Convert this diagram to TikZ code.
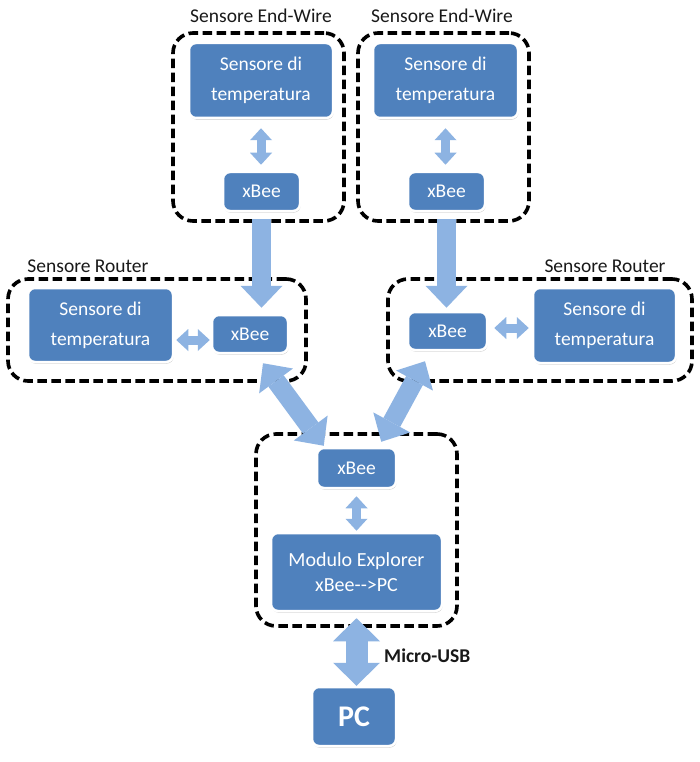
\documentclass[tikz,border=0pt]{standalone}
\usepackage{fontspec}
\setmainfont{Carlito}
\usetikzlibrary{arrows.meta,calc,shadows}
\definecolor{boxblue}{HTML}{4F81BD}
\definecolor{arrblue}{HTML}{8DB3E2}
\begin{document}
\begin{tikzpicture}[x=1pt,y=-1pt,
  blk/.style={fill=boxblue, draw=white, line width=2.5pt, rounded corners=7pt, text=white,
    inner sep=0pt, align=center, font=\fontsize{19.5}{30}\selectfont,
    general shadow={fill=black!22, shadow xshift=0.6pt, shadow yshift=-1.6pt}},
  grp/.style={draw=black, line width=3.6pt, dash pattern=on 9.5pt off 4.5pt, rounded corners=20pt, inner sep=0pt},
  ttl/.style={anchor=base, text=black!90, font=\fontsize{19.5}{24}\selectfont, inner sep=0pt},
  bigarr/.style={draw=arrblue, line width=19pt, -{Triangle[width=42pt,length=22pt,line width=0pt]}},
  bigdbl/.style={draw=arrblue, line width=19pt, {Triangle[width=42pt,length=22pt,line width=0pt]}-{Triangle[width=42pt,length=22pt,line width=0pt]}},
  usbarr/.style={draw=arrblue, line width=22pt, {Triangle[width=47pt,length=23pt,line width=0pt]}-{Triangle[width=47pt,length=23pt,line width=0pt]}},
  smldbl/.style={draw=arrblue, line width=9pt, {Triangle[width=22pt,length=12pt,line width=0pt]}-{Triangle[width=22pt,length=12pt,line width=0pt]}}
]
\useasboundingbox (0,0) rectangle (700,762);
\fill[white] (0,0) rectangle (700,762);

% groups
\node[grp, minimum width=171pt, minimum height=188pt] (tlg) at (258.5,127) {};
\node[grp, minimum width=171pt, minimum height=188pt] (trg) at (443.5,127) {};
\node[grp, minimum width=298pt, minimum height=102pt] (lrg) at (157,330) {};
\node[grp, minimum width=304pt, minimum height=102pt] (rrg) at (540,330) {};
\node[grp, minimum width=201pt, minimum height=192pt] (btg) at (356.5,530) {};

% titles
\node[ttl] (tlt) at (261,23) {Sensore End-Wire};
\node[ttl] (trt) at (442,23) {Sensore End-Wire};
\node[ttl] (lrt) at (88,272) {Sensore Router};
\node[ttl] (rrt) at (605,272) {Sensore Router};

% blocks
\node[blk, minimum width=144pt, minimum height=75pt] (tls) at (261,80.5) {Sensore di\\temperatura};
\node[blk, minimum width=77pt, minimum height=39pt] (tlx) at (261.5,191.5) {xBee};
\node[blk, minimum width=145pt, minimum height=75pt] (trs) at (445.5,80.5) {Sensore di\\temperatura};
\node[blk, minimum width=77pt, minimum height=39pt] (trx) at (446.5,191.5) {xBee};
\node[blk, minimum width=145pt, minimum height=74pt] (lrs) at (100.5,325) {Sensore di\\temperatura};
\node[blk, minimum width=76pt, minimum height=38pt] (lrx) at (250,334) {xBee};
\node[blk, minimum width=79pt, minimum height=38pt] (rrx) at (447.5,331) {xBee};
\node[blk, minimum width=143pt, minimum height=75pt] (rrs) at (604.5,325.5) {Sensore di\\temperatura};
\node[blk, minimum width=79pt, minimum height=40pt] (btx) at (356.5,468) {xBee};
\node[blk, minimum width=171pt, minimum height=78pt, font=\fontsize{20}{25}\selectfont] (mod) at (356.5,572) {Modulo Explorer\\xBee-{}->PC};
\node[blk, minimum width=84pt, minimum height=59pt, font=\fontsize{30}{36}\selectfont\bfseries] (pc) at (354,716.5) {PC};

% small arrows
\draw[smldbl, shorten <=9pt, shorten >=6pt] (tls.south) -- (tls.south |- tlx.north);
\draw[smldbl, shorten <=9pt, shorten >=6pt] (trs.south) -- (trs.south |- trx.north);
\draw[smldbl] ($(lrs.east)+(2,15)$) -- ($(lrx.west)+(-1,6)$);
\draw[smldbl] ($(rrx.east)+(6,-3)$) -- ($(rrs.west)+(-3,2.5)$);
\draw[smldbl, shorten <=7pt, shorten >=1pt] (btx.south) -- (btx.south |- mod.north);

% big arrows
\draw[bigarr, shorten <=7pt, shorten >=6pt] (tlx.south) -- (tlx.south |- lrx.north);
\draw[bigarr, shorten <=7pt, shorten >=3pt] (trx.south) -- (trx.south |- rrx.north);
\draw[bigdbl] ($(lrx.south)+(13,9)$) -- ($(btx.north west)+(8,-1)$);
\draw[bigdbl] ($(rrx.south)+(-22.5,10)$) -- ($(btx.north east)+(-16,-5)$);
\draw[usbarr, shorten <=6pt] (mod.south) -- (mod.south |- pc.north);

\node[anchor=base west, inner sep=0pt, text=black!90, font=\fontsize{19.5}{24}\selectfont\bfseries] (usb) at (384,662) {Micro-USB};
\end{tikzpicture}
\end{document}
